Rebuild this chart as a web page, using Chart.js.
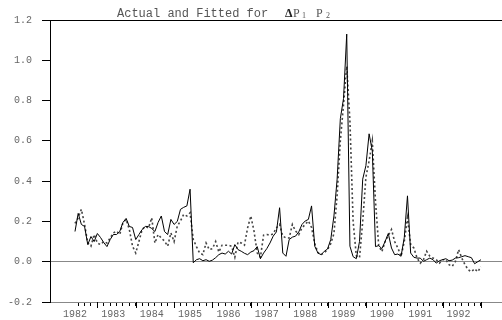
<!DOCTYPE html>
<html>
<head>
<meta charset="utf-8">
<style>
  html, body { margin: 0; padding: 0; background: #fff; }
  canvas { display: block; }
</style>
<script src="https://cdn.jsdelivr.net/npm/chart.js@4"></script>
</head>
<body>
<canvas id="chart" width="502" height="320"></canvas>
<script>
// Monthly sample: 1982M05 .. 1992M12
const startYear = 1982;
const startMonth = 5;

// Actual ΔP1P2
const actual = [
  0.15, 0.24, 0.185, 0.175, 0.085, 0.125, 0.10, 0.14, 0.12, 0.095,
  0.075, 0.11, 0.135, 0.135, 0.15, 0.195, 0.215, 0.175, 0.17, 0.11,
  0.135, 0.16, 0.175, 0.175, 0.165, 0.15, 0.195, 0.227, 0.15, 0.135,
  0.21, 0.185, 0.20, 0.26, 0.27, 0.277, 0.36, -0.005, 0.01, 0.015,
  0.005, 0.01, 0.002, 0.008, 0.02, 0.035, 0.043, 0.038, 0.052, 0.038,
  0.085, 0.06, 0.052, 0.042, 0.035, 0.048, 0.055, 0.075, 0.015, 0.043,
  0.065, 0.093, 0.127, 0.148, 0.268, 0.043, 0.027, 0.11, 0.122, 0.127,
  0.148, 0.185, 0.202, 0.21, 0.277, 0.077, 0.043, 0.035, 0.052, 0.063,
  0.11, 0.227, 0.41, 0.71, 0.81, 1.13, 0.077, 0.025, 0.015, 0.10,
  0.41, 0.477, 0.635, 0.55, 0.075, 0.08, 0.065, 0.10, 0.14, 0.068,
  0.035, 0.038, 0.027, 0.12, 0.327, 0.043, 0.022, 0.018, 0.018, 0.002,
  0.01, 0.018, 0.01, -0.007, 0.005, 0.01, 0.015, 0.005, 0.008, 0.018,
  0.02, 0.025, 0.03, 0.025, 0.02, -0.01, 0.0, 0.01
];

// Fitted ΔP1P2
const fitted = [
  0.19, 0.218, 0.26, 0.185, 0.093, 0.077, 0.135, 0.093, 0.085, 0.10,
  0.093, 0.118, 0.143, 0.152, 0.135, 0.193, 0.21, 0.16, 0.077, 0.043,
  0.10, 0.16, 0.175, 0.168, 0.218, 0.093, 0.135, 0.118, 0.102, 0.077,
  0.143, 0.10, 0.177, 0.202, 0.235, 0.227, 0.243, 0.11, 0.075, 0.043,
  0.035, 0.093, 0.06, 0.065, 0.10, 0.048, 0.082, 0.082, 0.082, 0.077,
  0.022, 0.098, 0.093, 0.082, 0.168, 0.227, 0.152, 0.043, 0.022, 0.132,
  0.135, 0.132, 0.138, 0.168, 0.185, 0.127, 0.118, 0.118, 0.185, 0.152,
  0.135, 0.168, 0.185, 0.202, 0.17, 0.09, 0.045, 0.035, 0.045, 0.06,
  0.09, 0.14, 0.33, 0.60, 0.78, 0.97, 0.70, 0.20, 0.03, 0.02,
  0.20, 0.42, 0.50, 0.60, 0.30, 0.08, 0.05, 0.10, 0.13, 0.16,
  0.10, 0.068, 0.027, 0.10, 0.218, 0.085, 0.068, 0.018, -0.007, 0.01,
  0.052, 0.027, 0.018, 0.01, -0.007, 0.01, 0.01, -0.015, -0.023, 0.002,
  0.06, 0.018, -0.015, -0.04, -0.05, -0.035, -0.05, -0.025
];

// Year labels on the date axis
const years = [1982, 1983, 1984, 1985, 1986, 1987, 1988, 1989, 1990, 1991, 1992];

// y-axis tick values
const yTicks = [-0.2, 0.0, 0.2, 0.4, 0.6, 0.8, 1.0, 1.2];

// Period positions as fractional years (end of month)
const periods = actual.map((_, i) => {
  const m0 = startMonth - 1 + i;
  const y = startYear + Math.floor(m0 / 12);
  const m = (m0 % 12) + 1;
  return { label: y + 'M' + String(m).padStart(2, '0'), t: y + m / 12 };
});

const actualPts = periods.map((p, i) => ({ x: p.t, y: actual[i] }));
const fittedPts = periods.map((p, i) => ({ x: p.t, y: fitted[i] }));

const LABEL_OFFSET = 5 / 12;
const isLabelTick = v => {
  const f = v - Math.floor(v + 1e-9);
  return Math.abs(f - LABEL_OFFSET) < 1e-6;
};

const monoFont = { family: "'Liberation Mono', 'DejaVu Sans Mono', monospace", size: 10 };

// Title in the top margin, plus longer marks at each year boundary
const captionPlugin = {
  id: 'caption',
  afterDraw(chart) {
    const c = chart.ctx;
    c.save();
    c.textBaseline = 'alphabetic';
    c.textAlign = 'left';
    c.fillStyle = '#555';
    c.font = "12px 'Liberation Mono', monospace";
    c.fillText('Actual and Fitted for', 117, 17);
    c.fillStyle = '#222';
    c.font = "bold 12px 'Liberation Serif', serif";
    c.fillText('\u0394', 285, 17);
    c.fillStyle = '#555';
    c.font = "12px 'Liberation Serif', serif";
    c.fillText('P', 293, 17);
    c.fillText('P', 316, 17);
    c.font = "8px 'Liberation Serif', serif";
    c.fillText('1', 302, 18);
    c.fillText('2', 326, 18);

    const xs = chart.scales.x;
    const yb = chart.chartArea.bottom;
    c.strokeStyle = '#000';
    c.lineWidth = 1;
    c.beginPath();
    years.slice(1).concat([years[years.length - 1] + 1]).forEach(y => {
      const px = Math.round(xs.getPixelForValue(y)) + 0.5;
      c.moveTo(px, yb);
      c.lineTo(px, yb + 6);
    });
    c.stroke();
    c.restore();
  }
};

new Chart(document.getElementById('chart').getContext('2d'), {
  type: 'line',
  data: {
    datasets: [
      {
        label: 'Actual',
        data: actualPts,
        borderColor: '#000',
        borderWidth: 1,
        pointRadius: 0,
        tension: 0
      },
      {
        label: 'Fitted',
        data: fittedPts,
        borderColor: '#444',
        borderWidth: 1.6,
        borderDash: [2, 2.5],
        pointRadius: 0,
        tension: 0
      }
    ]
  },
  options: {
    responsive: false,
    animation: false,
    devicePixelRatio: 1,
    layout: { padding: { top: 20, left: 0, right: 0, bottom: 0 } },
    plugins: {
      legend: { display: false },
      tooltip: { enabled: false },
      title: { display: false }
    },
    scales: {
      x: {
        type: 'linear',
        min: 1981.7654,
        max: 1993.5474,
        afterFit(scale) { scale.height = 18; },
        afterBuildTicks(scale) {
          const list = [];
          years.forEach(y => {
            for (let k = 0; k < 6; k++) {
              const v = y + k / 6;
              if (v >= 1982.5 - 1e-9) list.push({ value: v });
            }
            list.push({ value: y + LABEL_OFFSET });
          });
          list.push({ value: years[years.length - 1] + 1 });
          list.sort((a, b) => a.value - b.value);
          scale.ticks = list;
        },
        grid: {
          drawOnChartArea: false,
          tickLength: 4,
          tickColor: ctx => (ctx.tick && isLabelTick(ctx.tick.value)) ? 'rgba(0,0,0,0)' : '#000'
        },
        border: { color: '#888', width: 1 },
        ticks: {
          autoSkip: false,
          maxRotation: 0,
          minRotation: 0,
          padding: 2,
          font: monoFont,
          color: '#666',
          callback: v => isLabelTick(v) ? String(Math.floor(v)) : ''
        }
      },
      y: {
        min: yTicks[0],
        max: yTicks[yTicks.length - 1],
        afterFit(scale) { scale.width = 50; },
        afterBuildTicks(scale) { scale.ticks = yTicks.map(v => ({ value: v })); },
        ticks: {
          padding: 10,
          font: monoFont,
          color: '#666',
          callback: v => (Math.abs(v) < 1e-9 ? 0 : v).toFixed(1)
        },
        grid: {
          tickLength: 8,
          tickColor: '#000',
          color: ctx => {
            const v = ctx.tick ? ctx.tick.value : NaN;
            if (Math.abs(v) < 1e-9) return '#888';
            if (Math.abs(v - 1.2) < 1e-9) return '#000';
            return 'rgba(0,0,0,0)';
          }
        },
        border: { color: '#000', width: 1 }
      }
    }
  },
  plugins: [captionPlugin]
});
</script>
</body>
</html>
